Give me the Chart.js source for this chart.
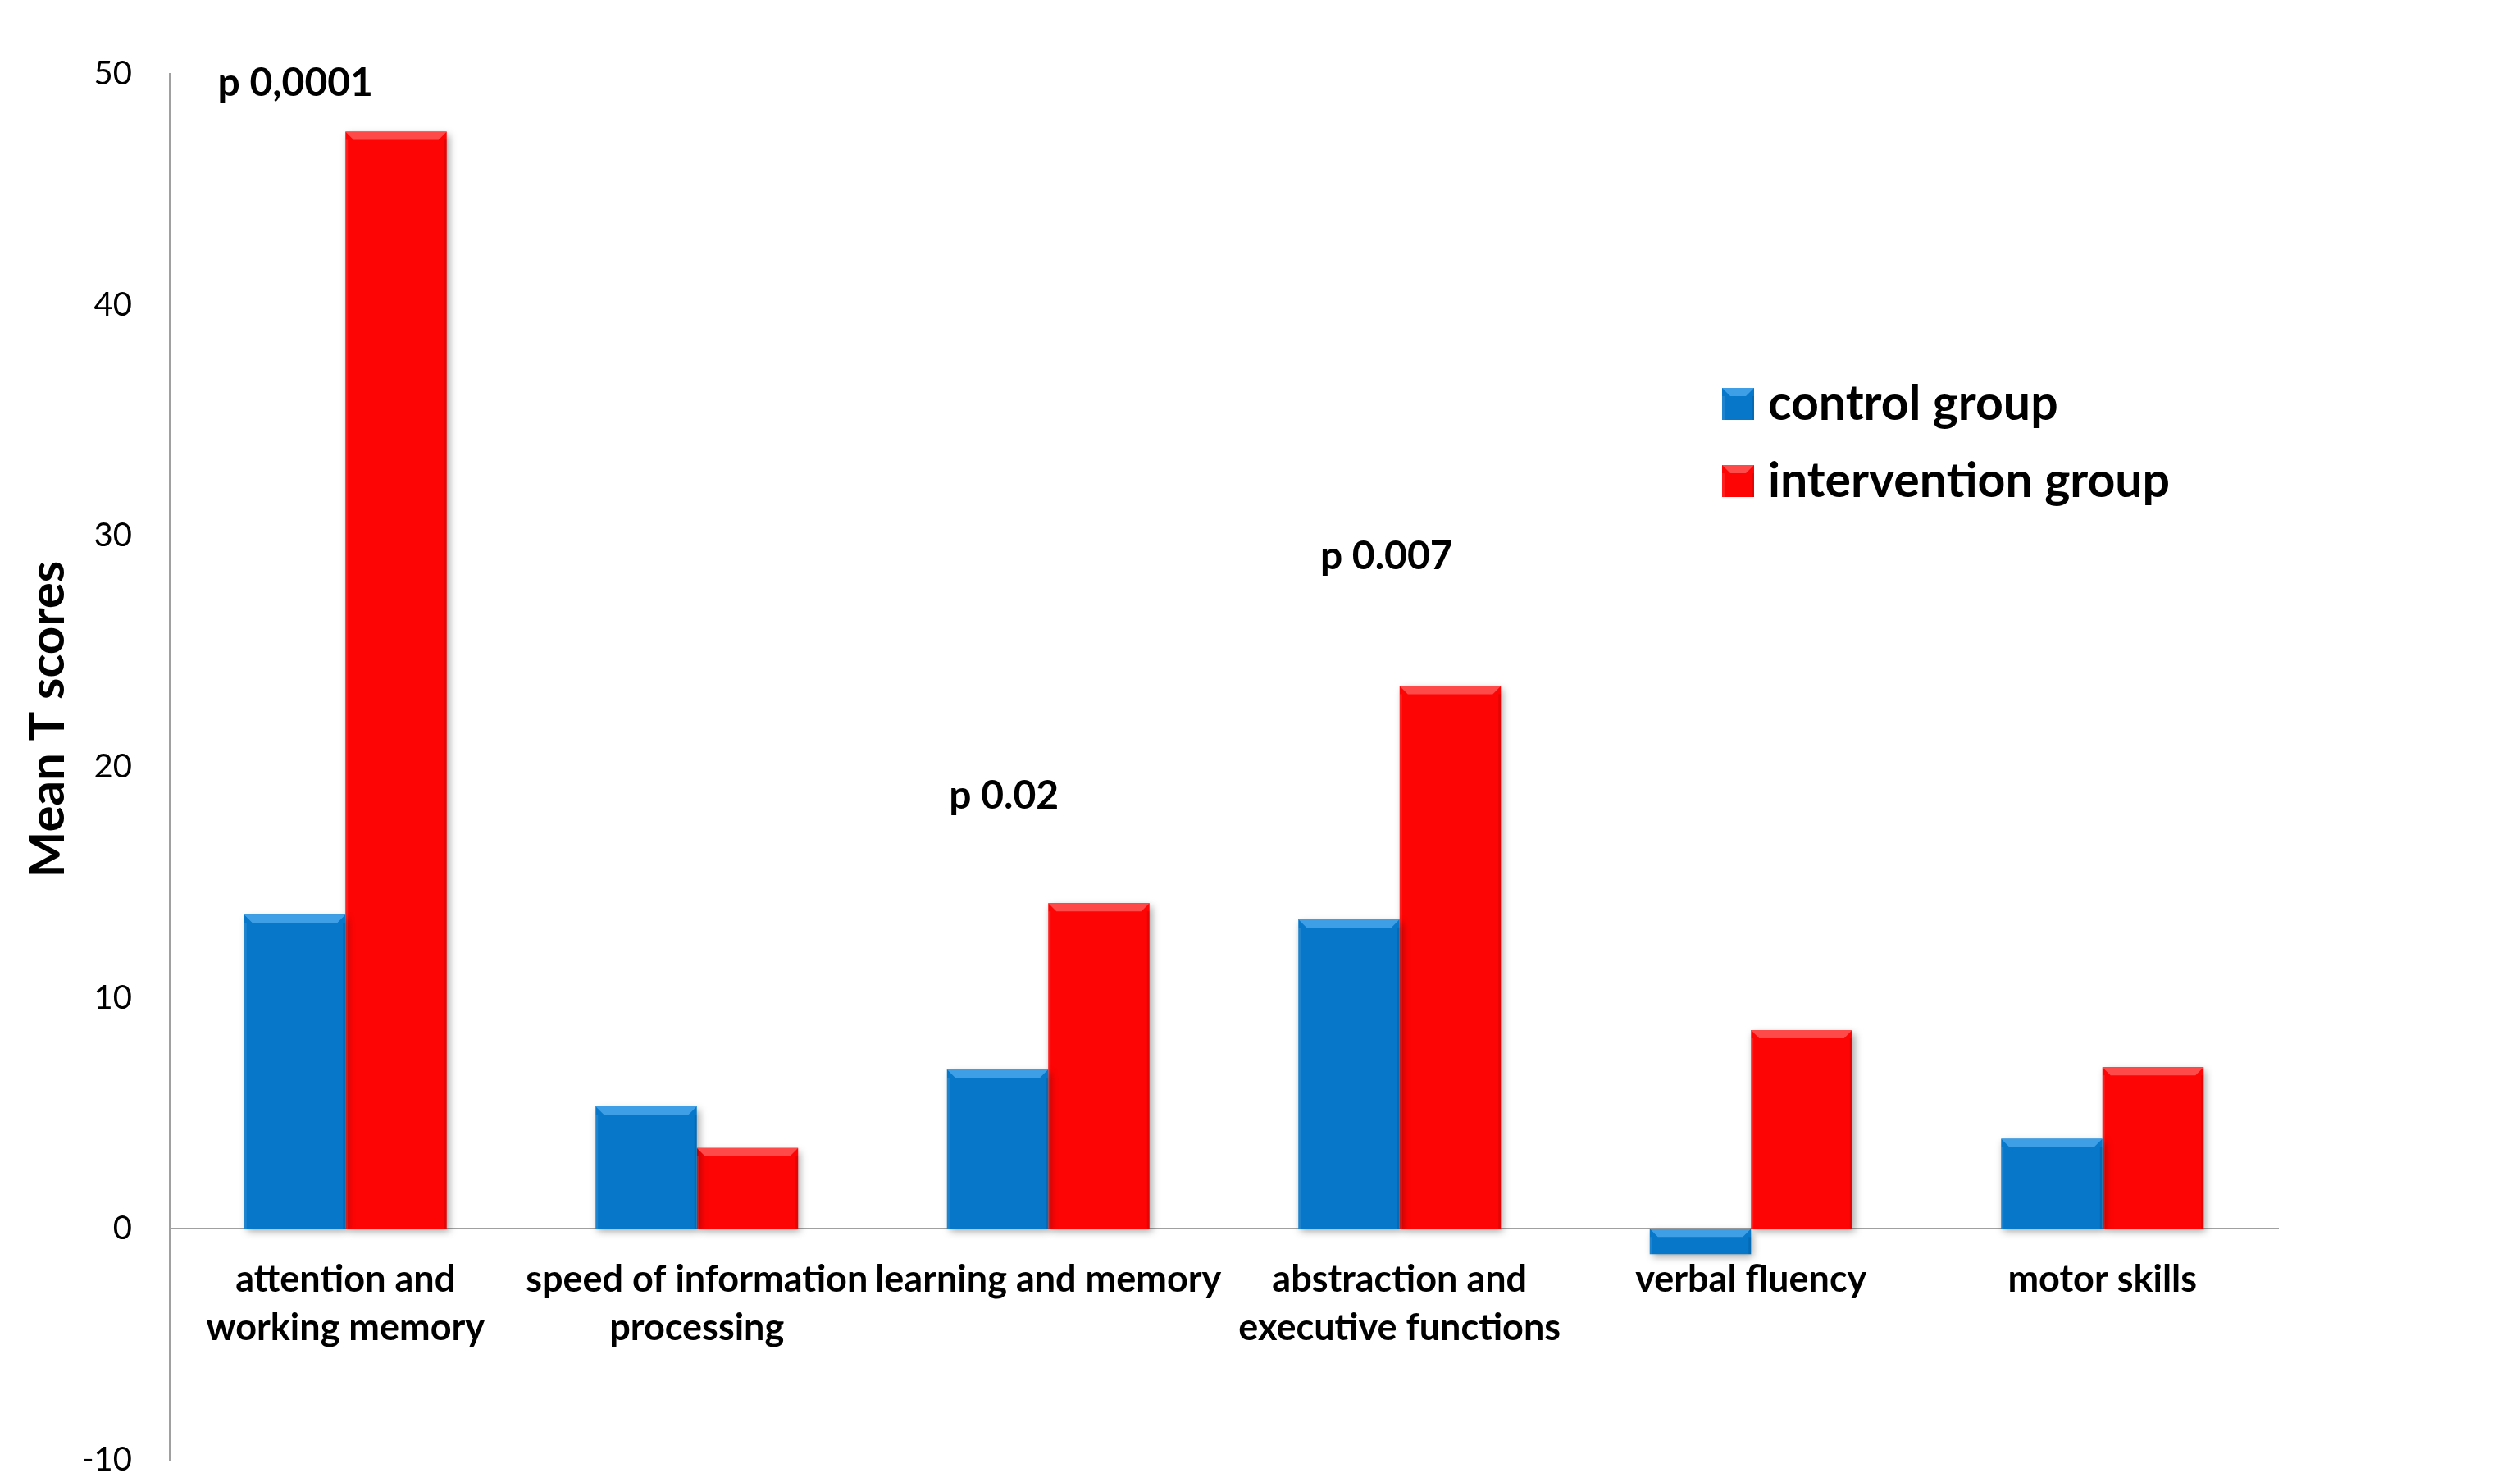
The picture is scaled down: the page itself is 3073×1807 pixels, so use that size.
<!DOCTYPE html>
<html>
<head>
<meta charset="utf-8">
<script src="https://cdn.jsdelivr.net/npm/chart.js@4/dist/chart.umd.min.js"></script>
<style>
  html, body { margin: 0; padding: 0; background: #ffffff; }
  #wrap { width: 3073px; height: 1807px; }
</style>
</head>
<body>
<div id="wrap"><canvas id="chart" width="3073" height="1807"></canvas></div>
<script>
// Cognitive domains on the category axis
const categories = [
  ['attention and', 'working memory'],
  ['speed of information', 'processing'],
  'learning and memory',
  ['abstraction and', 'executive functions'],
  'verbal fluency',
  'motor skills'
];

// Mean T score change per group
const controlGroup      = [13.6, 5.3, 6.9, 13.4, -1.1, 3.9];
const interventionGroup = [47.5, 3.5, 14.1, 23.5, 8.6, 7.0];

const seriesNames = ['control group', 'intervention group'];
const yTicks = [-10, 0, 10, 20, 30, 40, 50];
const yTitle = 'Mean T scores';

// Significance notes and the category each belongs to
const pValueTexts = ['p 0,0001', 'p 0.02', 'p 0.007'];
const pValueCategories = [0, 2, 3];

const FONT = 'Lato, "Open Sans", sans-serif';
const BLUE = '#0677C9', BLUE_BEVEL = '#3E9FE6';
const RED = '#FE0505', RED_BEVEL = '#FF4A4A';

// Soft drop shadow under the bars
const barShadow = {
  id: 'barShadow',
  beforeDatasetsDraw(chart) {
    const ctx = chart.ctx;
    ctx.save();
    ctx.shadowColor = 'rgba(0,0,0,0.35)';
    ctx.shadowBlur = 9;
    ctx.shadowOffsetX = 3;
    ctx.shadowOffsetY = 4;
  },
  afterDatasetsDraw(chart) {
    chart.ctx.restore();
  }
};

// Lighter bevel strip along the upper edge of every bar
function drawBevel(ctx, left, top, w, h, color) {
  const b = Math.min(10, h / 2);
  ctx.fillStyle = color;
  ctx.beginPath();
  ctx.moveTo(left, top);
  ctx.lineTo(left + w, top);
  ctx.lineTo(left + w - b, top + b);
  ctx.lineTo(left + b, top + b);
  ctx.closePath();
  ctx.fill();
  ctx.fillStyle = 'rgba(0,0,0,0.10)';
  ctx.fillRect(left + w - 3, top + b, 3, h - b);
  ctx.fillStyle = 'rgba(255,255,255,0.10)';
  ctx.fillRect(left, top + b, 3, h - b);
}

const barBevel = {
  id: 'barBevel',
  afterDatasetsDraw(chart) {
    const ctx = chart.ctx;
    ctx.save();
    chart.data.datasets.forEach((ds, di) => {
      const meta = chart.getDatasetMeta(di);
      meta.data.forEach(el => {
        const p = el.getProps(['x', 'y', 'base', 'width'], true);
        const left = p.x - p.width / 2;
        const top = Math.min(p.y, p.base);
        const h = Math.abs(p.base - p.y);
        drawBevel(ctx, left, top, p.width, h, ds.bevelColor);
      });
    });
    ctx.restore();
  }
};

// Significance annotations placed above the compared bars
const pValueNotes = {
  id: 'pValueNotes',
  afterDraw(chart, args, opts) {
    const ctx = chart.ctx;
    const xs = chart.scales.x, ys = chart.scales.y;
    ctx.save();
    ctx.font = `bold ${opts.size}px ${FONT}`;
    ctx.fillStyle = '#000';
    ctx.textAlign = 'center';
    ctx.textBaseline = 'middle';
    pValueTexts.forEach((t, i) => {
      const x = xs.getPixelForValue(pValueCategories[i]) + opts.dx[i];
      const y = ys.getPixelForValue(opts.level[i]);
      ctx.fillText(t, x, y);
    });
    ctx.restore();
  }
};

// Vertical axis caption
const yCaption = {
  id: 'yCaption',
  afterDraw(chart, args, opts) {
    const ctx = chart.ctx;
    ctx.save();
    ctx.translate(opts.x, opts.y);
    ctx.rotate(-Math.PI / 2);
    ctx.font = `bold ${opts.size}px ${FONT}`;
    ctx.fillStyle = '#000';
    ctx.textAlign = 'center';
    ctx.textBaseline = 'middle';
    ctx.fillText(yTitle, 0, 0);
    ctx.restore();
  }
};

// Series key with bevelled swatches
const seriesKey = {
  id: 'seriesKey',
  afterDraw(chart, args, opts) {
    const ctx = chart.ctx;
    ctx.save();
    chart.data.datasets.forEach((ds, i) => {
      const top = opts.top + i * opts.rowGap;
      ctx.fillStyle = ds.backgroundColor;
      ctx.fillRect(opts.left, top, opts.box, opts.box);
      drawBevel(ctx, opts.left, top, opts.box, opts.box, ds.bevelColor);
      ctx.font = `bold ${opts.size}px ${FONT}`;
      ctx.fillStyle = '#000';
      ctx.textAlign = 'left';
      ctx.textBaseline = 'alphabetic';
      ctx.fillText(ds.label, opts.left + opts.box + opts.gap, top + opts.baseline);
    });
    ctx.restore();
  }
};

function build() {
  new Chart(document.getElementById('chart'), {
    type: 'bar',
    data: {
      labels: categories,
      datasets: [
        { label: seriesNames[0], data: controlGroup, backgroundColor: BLUE, bevelColor: BLUE_BEVEL },
        { label: seriesNames[1], data: interventionGroup, backgroundColor: RED, bevelColor: RED_BEVEL }
      ]
    },
    options: {
      responsive: false,
      animation: false,
      devicePixelRatio: 1,
      categoryPercentage: 0.5764,
      barPercentage: 1.0,
      layout: { padding: { left: 0, top: 90, right: 295, bottom: 27 } },
      plugins: {
        legend: { display: false },
        tooltip: { enabled: false },
        pValueNotes: { size: 48, dx: [-61, -54, -16], level: [49.6, 18.75, 29.1] },
        yCaption: { x: 59, y: 877, size: 60 },
        seriesKey: { left: 2100, top: 473, box: 39, rowGap: 94, gap: 17, baseline: 39, size: 59 }
      },
      scales: {
        x: {
          position: { y: 0 },
          grid: { display: false, drawTicks: false },
          border: { display: true, color: '#A0A0A0', width: 2 },
          ticks: {
            color: '#000',
            padding: 33,
            maxRotation: 0,
            autoSkip: false,
            font: { family: FONT, size: 45, weight: 'bold', lineHeight: 1.311 }
          }
        },
        y: {
          min: -10,
          max: 50,
          grid: { display: false, drawTicks: false },
          border: { display: true, color: '#A0A0A0', width: 2 },
          afterBuildTicks(scale) { scale.ticks = yTicks.map(v => ({ value: v })); },
          afterFit(scale) { scale.width = 207; scale.paddingTop = 0; scale.paddingBottom = 0; },
          ticks: {
            color: '#000',
            padding: 46,
            font: { family: FONT, size: 40, weight: 'normal' }
          }
        }
      }
    },
    plugins: [barShadow, barBevel, pValueNotes, yCaption, seriesKey]
  });
}

Promise.all([
  document.fonts.load(`bold 40px Lato`),
  document.fonts.load(`40px Lato`)
]).catch(() => {}).then(build);
</script>
</body>
</html>
